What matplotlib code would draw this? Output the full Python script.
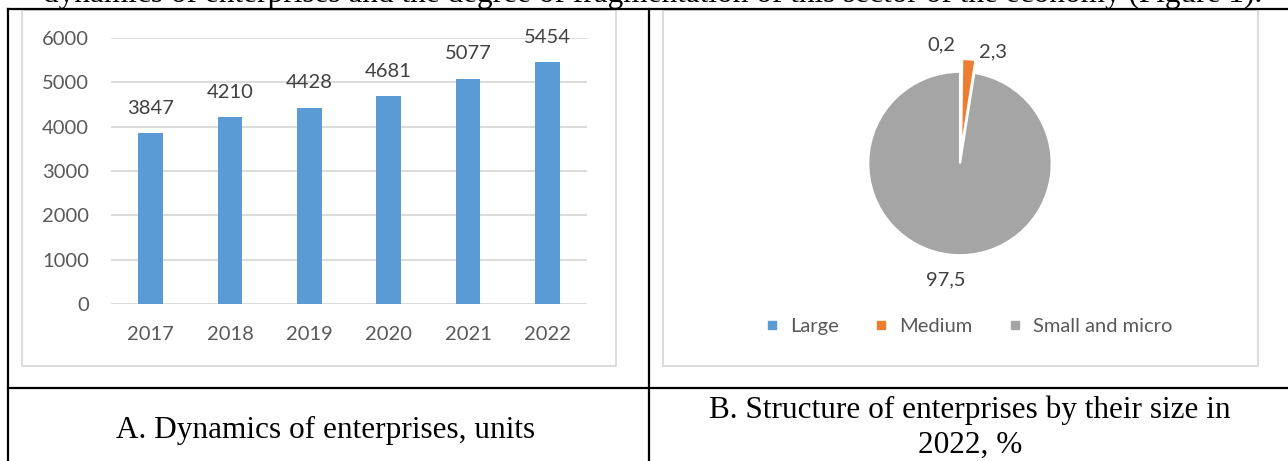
import matplotlib
matplotlib.use("Agg")
import matplotlib.pyplot as plt
from matplotlib.patches import Rectangle
from matplotlib.lines import Line2D

# data
years = ["2017", "2018", "2019", "2020", "2021", "2022"]
enterprises = [3847, 4210, 4428, 4681, 5077, 5454]
yticks = [0, 1000, 2000, 3000, 4000, 5000, 6000]

size_groups = ["Large", "Medium", "Small and micro"]
size_shares = [0.2, 2.3, 97.5]
size_labels = ["0,2", "2,3", "97,5"]

caption_a = "A. Dynamics of enterprises, units"
caption_b = ["B. Structure of enterprises by their size in", "2022, %"]
top_line = "dynamics of enterprises and the degree of fragmentation of this sector of the economy (Figure 1)."

W, H = 1288, 461
chart_font = "Lato"
fs = 14.5
txt_gray = "#595959"
grid_gray = "#D9D9D9"
colors = ["#5B9BD5", "#ED7D31", "#A5A5A5"]


def fx(px):
    return px / W


def fy(py):
    # py measured from the top of the picture
    return 1 - py / H


fig = plt.figure(figsize=(W / 100, H / 100), dpi=100)

# document text cut off at the top
fig.text(fx(1262), fy(2), top_line, ha="right", va="baseline",
         family="Liberation Serif", fontsize=22.5, color="black")

# table borders
lw = 1.6
for x0, y0, x1, y1 in [(8, 9, W, 9), (8, 388, W, 388), (8, 9, 8, H), (649, 9, 649, H)]:
    fig.add_artist(Line2D([fx(x0), fx(x1)], [fy(y0), fy(y1)], color="black",
                          lw=lw, transform=fig.transFigure))

# chart frames
for x0, x1 in [(22, 616), (663, 1258)]:
    fig.add_artist(Rectangle((fx(x0), fy(366)), fx(x1 - x0), (366 - 10) / H,
                             fill=False, edgecolor=grid_gray, lw=1.3,
                             transform=fig.transFigure))

# ---- A: bar chart
ax = fig.add_axes([fx(111), fy(304), fx(476), (304 - 38) / H])
x = range(len(years))
bars = ax.bar(x, enterprises, width=0.31, color=colors[0], zorder=3)
ax.set_xlim(-0.5, len(years) - 0.5)
ax.set_ylim(0, 6000)
ax.set_yticks(yticks)
ax.set_xticks(list(x))
ax.set_xticklabels(years)
ax.yaxis.grid(True, color=grid_gray, lw=1.3, zorder=0)
for s in ax.spines.values():
    s.set_visible(False)
ax.tick_params(length=0, labelsize=fs, labelcolor=txt_gray)
ax.tick_params(axis="y", pad=16)
ax.tick_params(axis="x", pad=16)
for lab in ax.get_xticklabels() + ax.get_yticklabels():
    lab.set_family(chart_font)
for b, v in zip(bars, enterprises):
    ax.annotate(str(v), (b.get_x() + b.get_width() / 2, v), xytext=(0, 12),
                textcoords="offset points", ha="center", va="bottom",
                fontsize=fs, color="#404040", family=chart_font)

# ---- B: pie chart
side = 220
pax = fig.add_axes([fx(960 - side / 2), fy(163.5 + side / 2), fx(side), side / H])
wedges, _ = pax.pie(size_shares, colors=colors, startangle=90, counterclock=False,
                    explode=[0, 0.14, 0], wedgeprops=dict(edgecolor="white", lw=1.5))
pax.set_xlim(-1.2, 1.2)
pax.set_ylim(-1.2, 1.2)
pax.set_aspect("equal")
label_pos = [(-0.2, 1.29), (0.36, 1.22), (-0.16, -1.27)]
for (lx, ly), t in zip(label_pos, size_labels):
    pax.text(lx, ly, t, ha="center", va="center", fontsize=fs,
             color="#404040", family=chart_font)

handles = [Line2D([], [], marker="s", ls="", markersize=6, color=c) for c in colors]
leg = fig.legend(handles, size_groups, loc="center", bbox_to_anchor=(fx(968), fy(326)),
                 ncol=3, frameon=False, handlelength=0.8, handletextpad=0.5,
                 columnspacing=1.7, prop=dict(family=chart_font, size=fs))
for t in leg.get_texts():
    t.set_color(txt_gray)

# captions
fig.text(fx(326), fy(438), caption_a, ha="center", va="baseline",
         family="Liberation Serif", fontsize=22.5)
fig.text(fx(970), fy(418), caption_b[0], ha="center", va="baseline",
         family="Liberation Serif", fontsize=22.5)
fig.text(fx(970), fy(453), caption_b[1], ha="center", va="baseline",
         family="Liberation Serif", fontsize=22.5)

fig.savefig("out.png", dpi=100)
